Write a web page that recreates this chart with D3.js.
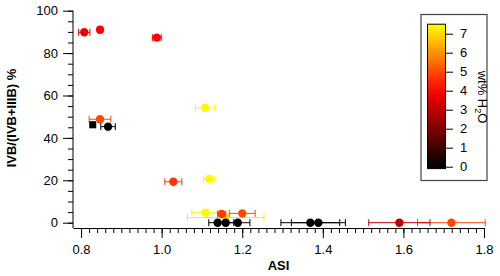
<!DOCTYPE html>
<html>
<head>
<meta charset="utf-8">
<script src="https://cdn.jsdelivr.net/npm/d3@7"></script>
<style>
  body { margin: 0; background: #fff; }
  svg { display: block; font-family: "Liberation Sans", Arial, sans-serif; }
</style>
</head>
<body>
<div id="chartDiv"></div>
<script>
// data
const asiVals = [0.808, 0.847, 0.988, 1.108, 0.847, 0.829, 0.867, 1.029, 1.118, 1.109, 1.159, 1.149, 1.200, 1.139, 1.159, 1.189, 1.369, 1.389, 1.590, 1.719];
const asiErr  = [0.014, 0.006, 0.011, 0.024, 0.027, 0.004, 0.018, 0.021, 0.014, 0.034, 0.095, 0.010, 0.032, 0.022, 0.020, 0.030, 0.073, 0.067, 0.076, 0.084];
const ivbPct  = [89.8, 91.0, 87.3, 54.2, 48.8, 46.2, 45.3, 19.3, 20.6, 4.7, 2.4, 4.1, 4.4, 0, 0, 0, 0, 0, 0, 0];
const waterWt = [3.7, 4.0, 4.0, 7.4, 5.0, 0, 0.1, 4.7, 7.4, 7.4, 7.2, 4.8, 5.0, 0, 0, 0, 0, 0, 3.0, 5.0];
const markerShape = ['c','c','c','c','c','s','c','c','c','c','c','c','c','c','c','c','c','c','c','c'];

const xTicks = [0.8, 1.0, 1.2, 1.4, 1.6, 1.8];
const yTicks = [0, 20, 40, 60, 80, 100];
const cbTicks = [0, 1, 2, 3, 4, 5, 6, 7];
const cbRange = [-0.1, 7.5];

const W = 500, H = 276;

const svg = d3.select('#chartDiv').append('svg')
	.attr('width', W)
	.attr('height', H);

const xScale = d3.scaleLinear().domain([0.78, 1.8]).range([73, 484]);
const yScale = d3.scaleLinear().domain([-2.5, 100]).range([228, 10.7]);

// black -> red -> yellow
const colorScale = d3.scaleLinear()
	.domain([0, 4, 7.5])
	.range(['#000000', '#ff0000', '#ffff00'])
	.clamp(true);

// minor ticks first
svg.append('g')
	.attr('transform', 'translate(73,0)')
	.call(d3.axisLeft(yScale).tickValues(d3.range(0, 101, 5)).tickSize(5).tickFormat(''))
	.call(g => g.select('.domain').remove());

svg.append('g')
	.attr('transform', 'translate(0,228)')
	.call(d3.axisBottom(xScale).tickValues(d3.range(40, 91, 1).map(d => d / 50)).tickSize(5).tickFormat(''))
	.call(g => g.select('.domain').remove());

// major axes
const yAxisG = svg.append('g')
	.attr('transform', 'translate(73,0)')
	.call(d3.axisLeft(yScale).tickValues(yTicks).tickSize(10).tickSizeOuter(0).tickPadding(5));

const xAxisG = svg.append('g')
	.attr('transform', 'translate(0,228)')
	.call(d3.axisBottom(xScale).tickValues(xTicks).tickSize(10).tickSizeOuter(0).tickPadding(7).tickFormat(d3.format('.1f')));

[yAxisG, xAxisG].forEach(g => {
	g.selectAll('text').attr('font-size', 13).attr('fill', '#000').attr('font-family', '"Liberation Sans", Arial, sans-serif');
	g.selectAll('line, path').attr('stroke', '#000');
});
yAxisG.select('.domain').attr('d', `M0,${yScale(100)}V228`);

// axis titles
svg.append('text')
	.attr('x', (73 + 484) / 2)
	.attr('y', 270)
	.attr('text-anchor', 'middle')
	.attr('font-weight', 'bold')
	.attr('font-size', 13)
	.text('ASI');

svg.append('text')
	.attr('transform', 'translate(16,118) rotate(-90)')
	.attr('text-anchor', 'middle')
	.attr('font-weight', 'bold')
	.attr('font-size', 13)
	.text('IVB/(IVB+IIIB) %');

// points, drawn wettest first so black sits on top
const pts = asiVals.map((x, i) => ({x, err: asiErr[i], y: ivbPct[i], w: waterWt[i], shape: markerShape[i]}))
	.sort((a, b) => b.w - a.w);

const ptG = svg.append('g');
pts.forEach(d => {
	const g = ptG.append('g');
	const c = colorScale(d.w);
	const cy = yScale(d.y);
	const x0 = xScale(d.x - d.err), x1 = xScale(d.x + d.err);
	g.append('line').attr('x1', x0).attr('x2', x1).attr('y1', cy).attr('y2', cy).attr('stroke', c);
	[x0, x1].forEach(xx => {
		g.append('line').attr('x1', xx).attr('x2', xx).attr('y1', cy - 3.5).attr('y2', cy + 3.5).attr('stroke', c);
	});
	if (d.shape === 's') {
		g.append('rect').attr('x', xScale(d.x) - 3.5).attr('y', cy - 3.5).attr('width', 7).attr('height', 7).attr('fill', c);
	} else {
		g.append('circle').attr('cx', xScale(d.x)).attr('cy', cy).attr('r', 4.2).attr('fill', c);
	}
});

// colour bar legend
const legG = svg.append('g');
legG.append('rect')
	.attr('x', 421).attr('y', 14.5).attr('width', 66).attr('height', 166)
	.attr('fill', '#fff').attr('stroke', '#444').attr('stroke-width', 1.2);

const cbScale = d3.scaleLinear().domain([0, 7]).range([166.7, 33.7]);

const grad = svg.append('defs').append('linearGradient')
	.attr('id', 'cbGrad')
	.attr('x1', 0).attr('y1', 1).attr('x2', 0).attr('y2', 0);
d3.range(0, 11).forEach(i => {
	const v = cbRange[0] + (cbRange[1] - cbRange[0]) * i / 10;
	grad.append('stop').attr('offset', i / 10).attr('stop-color', colorScale(v));
});

legG.append('rect')
	.attr('x', 427.5)
	.attr('y', cbScale(cbRange[1]))
	.attr('width', 18)
	.attr('height', cbScale(cbRange[0]) - cbScale(cbRange[1]))
	.attr('fill', 'url(#cbGrad)')
	.attr('stroke', '#000')
	.attr('stroke-width', 1);

const cbAxis = legG.append('g')
	.attr('transform', 'translate(446,0)')
	.call(d3.axisRight(cbScale).tickValues(cbTicks).tickSize(7).tickPadding(7).tickFormat(d3.format('d')));
cbAxis.select('.domain').remove();
cbAxis.selectAll('text').attr('font-size', 13).attr('fill', '#000').attr('font-family', '"Liberation Sans", Arial, sans-serif');
cbAxis.selectAll('line').attr('stroke', '#000');

const cbTitle = legG.append('text')
	.attr('transform', 'translate(478,97) rotate(90)')
	.attr('text-anchor', 'middle')
	.attr('font-size', 13);
cbTitle.append('tspan').text('wt% H');
cbTitle.append('tspan').attr('font-size', 9).attr('dy', 3).text('2');
cbTitle.append('tspan').attr('dy', -3).text('O');
</script>
</body>
</html>
